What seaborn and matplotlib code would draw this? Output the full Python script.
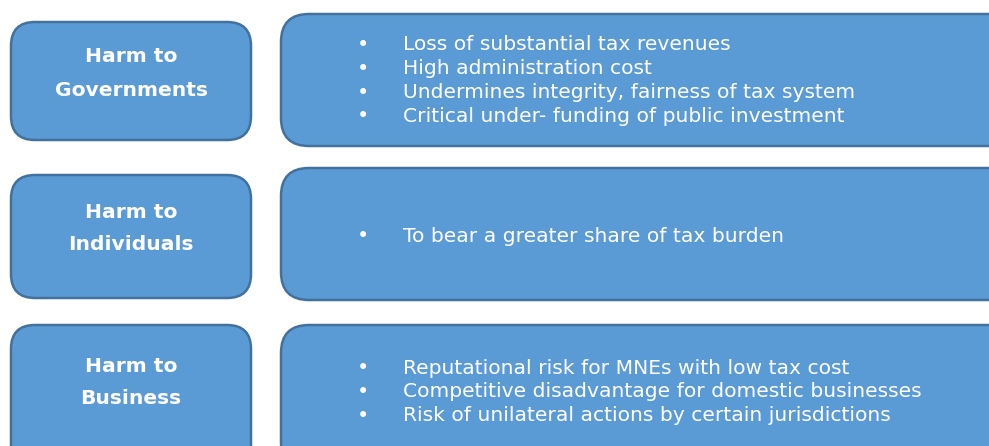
import matplotlib
matplotlib.use("Agg")
import matplotlib.pyplot as plt
from matplotlib.patches import FancyBboxPatch
import seaborn as sns

# row labels (left boxes) and the bullet items of each row (right boxes)
categories = ["Harm to\nGovernments", "Harm to\nIndividuals", "Harm to\nBusiness"]
bullets_gov = [
    "Loss of substantial tax revenues",
    "High administration cost",
    "Undermines integrity, fairness of tax system",
    "Critical under- funding of public investment",
]
bullets_ind = ["To bear a greater share of tax burden"]
bullets_bus = [
    "Reputational risk for MNEs with low tax cost",
    "Competitive disadvantage for domestic businesses",
    "Risk of unilateral actions by certain jurisdictions",
]
bullet_lists = [bullets_gov, bullets_ind, bullets_bus]

sns.set_style("white")
fill = "#5B9BD5"
edge = "#41719C"

# layout in pixels (top, bottom) per row
left_rows = [(22, 140), (175, 298), (325, 470)]
right_rows = [(14, 146), (168, 300), (325, 470)]
label_y = [(57, 90), (213, 245), (366, 399)]
first_line = [45, 236, 368]
line_gap = 23.8

fig = plt.figure(figsize=(9.89, 4.46), dpi=100)
ax = fig.add_axes([0, 0, 1, 1])
ax.set_xlim(0, 989)
ax.set_ylim(446, 0)
ax.set_axis_off()

for i, cat in enumerate(categories):
    t, b = left_rows[i]
    ax.add_patch(FancyBboxPatch((11, t), 240, b - t,
                                boxstyle="round,pad=0,rounding_size=24",
                                fc=fill, ec=edge, lw=1.8))
    t, b = right_rows[i]
    ax.add_patch(FancyBboxPatch((281, t), 740, b - t,
                                boxstyle="round,pad=0,rounding_size=28",
                                fc=fill, ec=edge, lw=1.8))
    for j, word in enumerate(cat.split("\n")):
        ax.text(131, label_y[i][j], word, ha="center", va="center",
                color="white", fontsize=14.6, fontweight="bold",
                family="DejaVu Sans")
    for k, item in enumerate(bullet_lists[i]):
        y = first_line[i] + k * line_gap
        ax.text(363, y, "\u2022", ha="center", va="center", color="white",
                fontsize=15, family="DejaVu Sans")
        ax.text(403, y, item, ha="left", va="center", color="white",
                fontsize=14.6, family="DejaVu Sans")

fig.savefig("out.png", dpi=100)
